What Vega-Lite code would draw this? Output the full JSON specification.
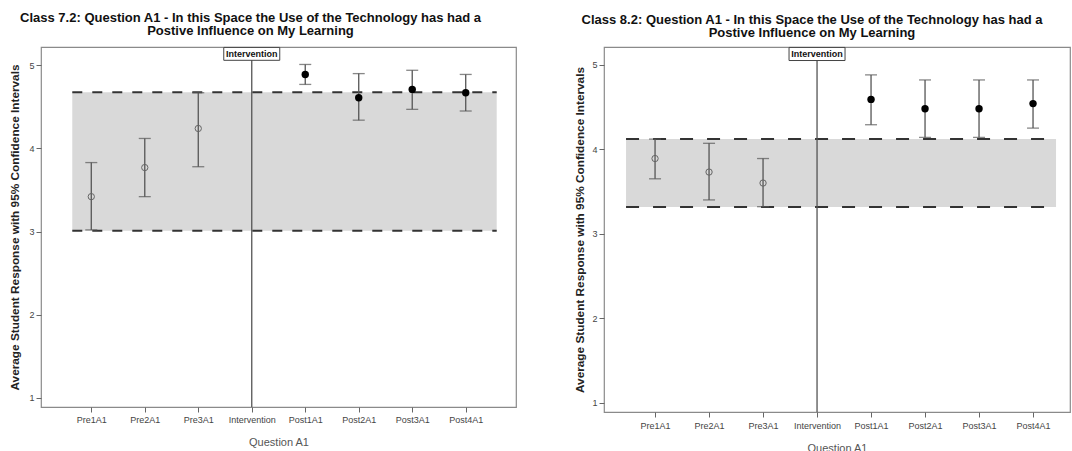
{
  "$schema": "https://vega.github.io/schema/vega-lite/v6.json",
  "padding": {"left": 9, "top": 11, "right": 0, "bottom": 0},
  "background": "white",
  "spacing": 57,
  "config": {
    "font": "Liberation Sans",
    "view": {"stroke": "#8a8a8a", "strokeWidth": 1.2},
    "axis": {"grid": false, "domain": false, "tickColor": "#666", "labelColor": "#444", "labelFontSize": 9, "labelFont": "Liberation Sans"},
    "title": {"font": "Liberation Sans", "fontSize": 13, "fontWeight": "bold", "color": "#111", "lineHeight": 13}
  },
  "datasets": {
    "c72": [
      {"q": "Pre1A1", "phase": "Pre", "mean": 3.42, "lo": 3.02, "hi": 3.83},
      {"q": "Pre2A1", "phase": "Pre", "mean": 3.77, "lo": 3.42, "hi": 4.12},
      {"q": "Pre3A1", "phase": "Pre", "mean": 4.24, "lo": 3.78, "hi": 4.67},
      {"q": "Post1A1", "phase": "Post", "mean": 4.89, "lo": 4.77, "hi": 5.01},
      {"q": "Post2A1", "phase": "Post", "mean": 4.61, "lo": 4.34, "hi": 4.90},
      {"q": "Post3A1", "phase": "Post", "mean": 4.71, "lo": 4.47, "hi": 4.94},
      {"q": "Post4A1", "phase": "Post", "mean": 4.67, "lo": 4.45, "hi": 4.89}
    ],
    "c82": [
      {"q": "Pre1A1", "phase": "Pre", "mean": 3.89, "lo": 3.65, "hi": 4.12},
      {"q": "Pre2A1", "phase": "Pre", "mean": 3.73, "lo": 3.40, "hi": 4.07},
      {"q": "Pre3A1", "phase": "Pre", "mean": 3.60, "lo": 3.32, "hi": 3.89},
      {"q": "Post1A1", "phase": "Post", "mean": 4.59, "lo": 4.29, "hi": 4.88},
      {"q": "Post2A1", "phase": "Post", "mean": 4.48, "lo": 4.14, "hi": 4.82},
      {"q": "Post3A1", "phase": "Post", "mean": 4.48, "lo": 4.14, "hi": 4.82},
      {"q": "Post4A1", "phase": "Post", "mean": 4.54, "lo": 4.25, "hi": 4.82}
    ],
    "b72": [{"lo": 3.01, "hi": 4.675}],
    "b82": [{"lo": 3.315, "hi": 4.12}]
  },
  "hconcat": [
    {
      "width": 475,
      "height": 360,
      "title": {"text": ["Class 7.2: Question A1 - In this Space the Use of the Technology has had a", "Postive Influence on My Learning"], "anchor": "middle", "frame": "group", "dx": -28, "offset": 8},
      "encoding": {
        "x": {"type": "nominal", "scale": {"type": "point", "domain": ["Pre1A1", "Pre2A1", "Pre3A1", "Intervention", "Post1A1", "Post2A1", "Post3A1", "Post4A1"], "padding": 0.94}, "axis": {"title": "Question A1", "labelAngle": 0, "titleColor": "#555", "titleFontSize": 11, "titleFontWeight": "normal", "titlePadding": 12, "tickSize": 5, "labelPadding": 3}},
        "y": {"type": "quantitative", "scale": {"domain": [0.89, 5.22], "nice": false, "zero": false}, "axis": {"title": "Average Student Response with 95% Confidence Intervals", "values": [1, 2, 3, 4, 5], "titleFontSize": 11.8, "titleFontWeight": "bold", "titleColor": "#222", "titlePadding": 8, "tickSize": 5, "labelPadding": 2}}
      },
      "layer": [
        {"data": {"name": "b72"}, "mark": {"type": "rect", "fill": "#d9d9d9", "xOffset": -19, "x2Offset": 31}, "encoding": {"x": {"datum": "Pre1A1"}, "x2": {"datum": "Post4A1"}, "y": {"field": "lo"}, "y2": {"field": "hi"}}},
        {"data": {"name": "b72"}, "mark": {"type": "rule", "stroke": "#333", "strokeWidth": 2, "strokeDash": [10, 10], "xOffset": -19, "x2Offset": 31}, "encoding": {"x": {"datum": "Pre1A1"}, "x2": {"datum": "Post4A1"}, "y": {"field": "lo"}}},
        {"data": {"name": "b72"}, "mark": {"type": "rule", "stroke": "#333", "strokeWidth": 2, "strokeDash": [10, 10], "xOffset": -19, "x2Offset": 31}, "encoding": {"x": {"datum": "Pre1A1"}, "x2": {"datum": "Post4A1"}, "y": {"field": "hi"}}},
        {"data": {"name": "b72"}, "mark": {"type": "rule", "stroke": "#555", "strokeWidth": 1.3}, "encoding": {"x": {"datum": "Intervention"}}},
        {"data": {"name": "b72"}, "mark": {"type": "rect", "fill": "white", "stroke": "#444", "strokeWidth": 1, "xOffset": -28, "x2Offset": 28}, "encoding": {"x": {"datum": "Intervention"}, "x2": {"datum": "Intervention"}, "y": {"datum": 5.215}, "y2": {"datum": 5.06}}},
        {"data": {"name": "b72"}, "mark": {"type": "text", "text": "Intervention", "fontSize": 9, "fontWeight": "bold", "color": "#111", "baseline": "middle"}, "encoding": {"x": {"datum": "Intervention"}, "y": {"datum": 5.137}}},
        {"data": {"name": "c72"}, "mark": {"type": "rule", "stroke": "#555", "strokeWidth": 1.3}, "encoding": {"x": {"field": "q"}, "y": {"field": "lo"}, "y2": {"field": "hi"}}},
        {"data": {"name": "c72"}, "mark": {"type": "tick", "color": "#555", "thickness": 1.3, "size": 12}, "encoding": {"x": {"field": "q"}, "y": {"field": "lo"}}},
        {"data": {"name": "c72"}, "mark": {"type": "tick", "color": "#555", "thickness": 1.3, "size": 12}, "encoding": {"x": {"field": "q"}, "y": {"field": "hi"}}},
        {"data": {"name": "c72"}, "transform": [{"filter": "datum.phase === 'Pre'"}], "mark": {"type": "point", "shape": "circle", "filled": false, "stroke": "#666", "strokeWidth": 1, "size": 40, "opacity": 1}, "encoding": {"x": {"field": "q"}, "y": {"field": "mean"}}},
        {"data": {"name": "c72"}, "transform": [{"filter": "datum.phase === 'Post'"}], "mark": {"type": "point", "shape": "circle", "filled": true, "color": "#000", "size": 55, "opacity": 1}, "encoding": {"x": {"field": "q"}, "y": {"field": "mean"}}}
      ]
    },
    {
      "width": 466,
      "height": 365,
      "title": {"text": ["Class 8.2: Question A1 - In this Space the Use of the Technology has had a", "Postive Influence on My Learning"], "anchor": "middle", "frame": "group", "dx": -25, "offset": 6},
      "encoding": {
        "x": {"type": "nominal", "scale": {"type": "point", "domain": ["Pre1A1", "Pre2A1", "Pre3A1", "Intervention", "Post1A1", "Post2A1", "Post3A1", "Post4A1"], "padding": 0.815, "align": 0.58}, "axis": {"title": "Question A1", "labelAngle": 0, "titleColor": "#555", "titleFontSize": 11, "titleFontWeight": "normal", "titlePadding": 12, "tickSize": 5, "labelPadding": 4}},
        "y": {"type": "quantitative", "scale": {"domain": [0.89, 5.21], "nice": false, "zero": false}, "axis": {"title": "Average Student Response with 95% Confidence Intervals", "values": [1, 2, 3, 4, 5], "titleFontSize": 11.8, "titleFontWeight": "bold", "titleColor": "#222", "titlePadding": 6, "tickSize": 5, "labelPadding": 2}}
      },
      "layer": [
        {"data": {"name": "b82"}, "mark": {"type": "rect", "fill": "#d9d9d9", "xOffset": -29, "x2Offset": 23}, "encoding": {"x": {"datum": "Pre1A1"}, "x2": {"datum": "Post4A1"}, "y": {"field": "lo"}, "y2": {"field": "hi"}}},
        {"data": {"name": "b82"}, "mark": {"type": "rule", "stroke": "#333", "strokeWidth": 2, "strokeDash": [13, 14], "xOffset": -29, "x2Offset": 23}, "encoding": {"x": {"datum": "Pre1A1"}, "x2": {"datum": "Post4A1"}, "y": {"field": "lo"}}},
        {"data": {"name": "b82"}, "mark": {"type": "rule", "stroke": "#333", "strokeWidth": 2, "strokeDash": [13, 14], "xOffset": -29, "x2Offset": 23}, "encoding": {"x": {"datum": "Pre1A1"}, "x2": {"datum": "Post4A1"}, "y": {"field": "hi"}}},
        {"data": {"name": "b82"}, "mark": {"type": "rule", "stroke": "#555", "strokeWidth": 1.3}, "encoding": {"x": {"datum": "Intervention"}}},
        {"data": {"name": "b82"}, "mark": {"type": "rect", "fill": "white", "stroke": "#444", "strokeWidth": 1, "xOffset": -28, "x2Offset": 28}, "encoding": {"x": {"datum": "Intervention"}, "x2": {"datum": "Intervention"}, "y": {"datum": 5.205}, "y2": {"datum": 5.05}}},
        {"data": {"name": "b82"}, "mark": {"type": "text", "text": "Intervention", "fontSize": 9, "fontWeight": "bold", "color": "#111", "baseline": "middle"}, "encoding": {"x": {"datum": "Intervention"}, "y": {"datum": 5.127}}},
        {"data": {"name": "c82"}, "mark": {"type": "rule", "stroke": "#555", "strokeWidth": 1.3}, "encoding": {"x": {"field": "q"}, "y": {"field": "lo"}, "y2": {"field": "hi"}}},
        {"data": {"name": "c82"}, "mark": {"type": "tick", "color": "#555", "thickness": 1.3, "size": 12}, "encoding": {"x": {"field": "q"}, "y": {"field": "lo"}}},
        {"data": {"name": "c82"}, "mark": {"type": "tick", "color": "#555", "thickness": 1.3, "size": 12}, "encoding": {"x": {"field": "q"}, "y": {"field": "hi"}}},
        {"data": {"name": "c82"}, "transform": [{"filter": "datum.phase === 'Pre'"}], "mark": {"type": "point", "shape": "circle", "filled": false, "stroke": "#666", "strokeWidth": 1, "size": 40, "opacity": 1}, "encoding": {"x": {"field": "q"}, "y": {"field": "mean"}}},
        {"data": {"name": "c82"}, "transform": [{"filter": "datum.phase === 'Post'"}], "mark": {"type": "point", "shape": "circle", "filled": true, "color": "#000", "size": 55, "opacity": 1}, "encoding": {"x": {"field": "q"}, "y": {"field": "mean"}}}
      ]
    }
  ]
}
